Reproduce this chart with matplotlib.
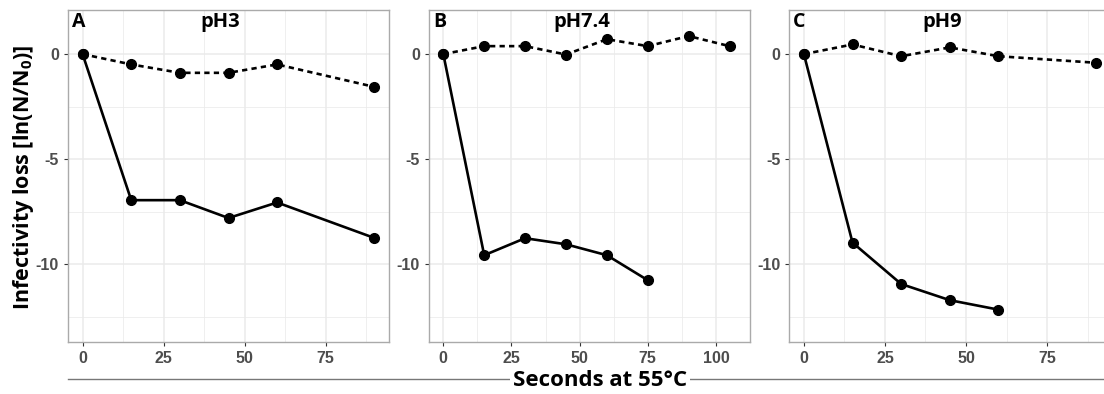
import numpy as np
import matplotlib as mp
import matplotlib.pyplot as plt
from matplotlib.lines import Line2D

# ---- data ----
panels = ["A", "B", "C"]
titles = ["pH3", "pH7.4", "pH9"]

sec_a = [0, 15, 30, 45, 60, 90]
solid_a = [0, -6.95, -6.95, -7.8, -7.06, -8.75]
sec_a_dash = [0, 15, 30, 45, 60, 90]
dash_a = [0, -0.49, -0.89, -0.89, -0.49, -1.56]

sec_b = [0, 15, 30, 45, 60, 75]
solid_b = [0, -9.57, -8.76, -9.05, -9.57, -10.76]
sec_b_dash = [0, 15, 30, 45, 60, 75, 90, 105]
dash_b = [0, 0.38, 0.38, -0.02, 0.71, 0.38, 0.86, 0.38]

sec_c = [0, 15, 30, 45, 60]
solid_c = [0, -8.97, -10.94, -11.71, -12.16]
sec_c_dash = [0, 15, 30, 45, 60, 90]
dash_c = [0, 0.46, -0.1, 0.32, -0.1, -0.41]

solid_x = [sec_a, sec_b, sec_c]
solid_y = [solid_a, solid_b, solid_c]
dash_x = [sec_a_dash, sec_b_dash, sec_c_dash]
dash_y = [dash_a, dash_b, dash_c]

xticks = [[0, 25, 50, 75], [0, 25, 50, 75, 100], [0, 25, 50, 75]]
yticks = [0, -5, -10]

mp.rcParams["mathtext.fontset"] = "custom"
mp.rcParams["mathtext.rm"] = "Open Sans:bold"
mp.rcParams["mathtext.bf"] = "Open Sans:bold"
mp.rcParams["axes.unicode_minus"] = False

grid_col = "#EBEBEB"
tick_col = "#4D4D4D"
border_col = "#AAAAAA"

fig = plt.figure(figsize=(11.04, 3.94), dpi=100)

W, H = 1104.0, 394.0
lefts = [68, 429, 789.3]
top, bottom, width = 10, 342, 321

for i in range(3):
    ax = fig.add_axes([lefts[i] / W, 1 - bottom / H, width / W, (bottom - top) / H])
    xmax = max(dash_x[i] + solid_x[i])
    pad = xmax * 0.05
    ax.set_xlim(-pad, xmax + pad)
    ax.set_ylim(-13.7, 2.1)

    ax.set_xticks(xticks[i])
    ax.set_yticks(yticks)
    ax.set_xticks([t + 12.5 for t in range(0, int(xmax), 25)], minor=True)
    ax.set_yticks([-2.5, -7.5, -12.5], minor=True)
    ax.grid(True, which="major", color=grid_col, linewidth=1.1)
    ax.grid(True, which="minor", color=grid_col, linewidth=0.55)
    ax.set_axisbelow(True)
    ax.tick_params(which="minor", length=0)
    ax.tick_params(which="major", length=3, color="#333333", width=0.8,
                   labelcolor=tick_col, labelsize=11.5, pad=3.5)
    for lab in ax.get_xticklabels() + ax.get_yticklabels():
        lab.set_fontweight("bold")
        lab.set_family("Liberation Sans")
    for sp in ax.spines.values():
        sp.set_color(border_col)
        sp.set_linewidth(1.0)

    ax.plot(dash_x[i], dash_y[i], color="black", linewidth=1.9,
            linestyle=(0, (2.0, 1.6)), marker="o", markersize=7, zorder=3)
    ax.plot(solid_x[i], solid_y[i], color="black", linewidth=1.9,
            linestyle="-", marker="o", markersize=7, zorder=3)

    ax.text(0.012, 0.995, panels[i], transform=ax.transAxes, ha="left", va="top",
            fontsize=14, fontweight="bold", family="Open Sans")
    ax.text(0.475, 0.995, titles[i], transform=ax.transAxes, ha="center", va="top",
            fontsize=14.5, fontweight="bold", family="Open Sans")

# y label
fig.text(24 / W, 1 - 177 / H, r"Infectivity loss [ln(N/N$_0$)]", rotation=90,
         ha="center", va="center", fontsize=15.5, fontweight="bold",
         family="Open Sans")

# x label with the rule running through it
fig.add_artist(Line2D([68 / W, 1.0], [1 - 379 / H, 1 - 379 / H],
                      color="#777777", linewidth=1.0))
fig.text(600 / W, 1 - 381 / H, "Seconds at 55°C", ha="center", va="center",
         fontsize=16, fontweight="bold", family="Open Sans",
         bbox=dict(facecolor="white", edgecolor="none", pad=2))

fig.savefig("out.png", dpi=100, facecolor="white")
plt.close()
